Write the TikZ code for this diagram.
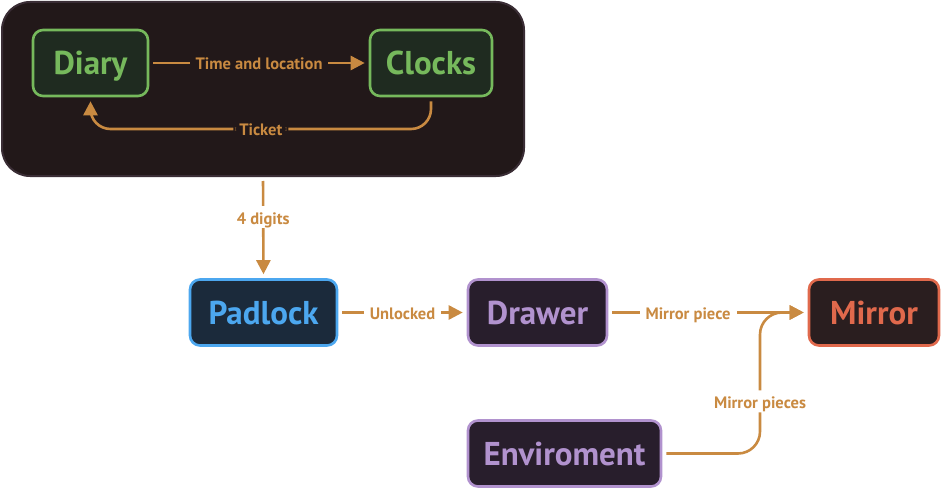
\documentclass[tikz,border=0pt]{standalone}
\usepackage{fontspec}
\setmainfont{PT Sans}
\usetikzlibrary{arrows.meta,positioning}
\definecolor{arrc}{HTML}{C98A41}
\definecolor{contfill}{HTML}{221819}
\definecolor{contdraw}{HTML}{3A2D35}
\definecolor{greenc}{HTML}{76B95C}
\definecolor{greenf}{HTML}{1F2B20}
\definecolor{bluec}{HTML}{4CA7EF}
\definecolor{bluef}{HTML}{1B2A3B}
\definecolor{purpc}{HTML}{B192CE}
\definecolor{purpf}{HTML}{281E2C}
\definecolor{redc}{HTML}{E0694C}
\definecolor{redf}{HTML}{2A1E1F}
\tikzset{
  box/.style={rounded corners=10pt, line width=2.6pt, minimum height=66pt,
    inner sep=0pt, text height=24pt, text depth=0pt,
    font=\fontsize{33}{36}\selectfont\bfseries},
  arr/.style={draw=arrc, line width=2.6pt, -{Triangle[length=14pt,width=14pt]},
    shorten <=4pt, shorten >=4pt},
  lbl/.style={fill=white, text=arrc, inner xsep=6pt, inner ysep=4pt,
    text height=14pt, text depth=0pt, font=\fontsize{16.5}{18}\selectfont\bfseries},
}
\begin{document}
\begin{tikzpicture}[x=1pt,y=-1pt]
\useasboundingbox (0,0) rectangle (941,489);
% container
\node[draw=contdraw, fill=contfill, line width=2pt, rounded corners=28pt,
  minimum width=522pt, minimum height=174pt, inner sep=0pt] (cont) at (263,89) {};
% nodes
\node[box, draw=greenc, fill=greenf, text=greenc, minimum width=115pt] (diary) at (90.5,63) {Diary};
\node[box, draw=greenc, fill=greenf, text=greenc, minimum width=122pt] (clocks) at (431,63) {Clocks};
\node[box, draw=bluec, fill=bluef, text=bluec, minimum width=147pt] (padlock) at (263.5,312.5) {Padlock};
\node[box, draw=purpc, fill=purpf, text=purpc, minimum width=139pt] (drawer) at (537.5,312.5) {Drawer};
\node[box, draw=redc, fill=redf, text=redc, minimum width=130pt] (mirror) at (874,312.5) {Mirror};
\node[box, draw=purpc, fill=purpf, text=purpc, minimum width=193pt] (env) at (564.5,453.5) {Enviroment};
% connectors
\draw[arr] (diary) -- node[lbl, fill=contfill] {Time and location} (clocks);
\draw[arr, rounded corners=20pt] (clocks.south) -- (431,129) -- node[lbl, fill=contfill] {Ticket} (90.5,129) -- (diary.south);
\draw[arr] (cont.south) -- node[lbl, pos=0.4] {4 digits} (padlock.north);
\draw[arr] (padlock) -- node[lbl] {Unlocked} (drawer);
\draw[arr] (drawer) -- node[lbl, pos=0.4] {Mirror piece} (mirror);
\draw[arr, rounded corners=22pt] (env.east) -- (760,453.5) -- node[lbl, pos=0.37] {Mirror pieces} (760,312.5) -- (mirror.west);
\end{tikzpicture}
\end{document}
